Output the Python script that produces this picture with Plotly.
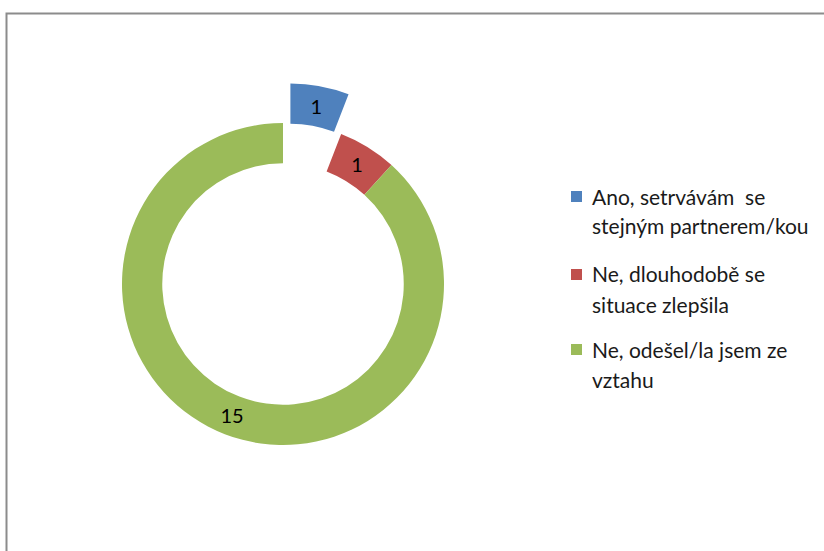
import plotly.graph_objects as go

# data
legend_lines = [
    ["Ano, setrvávám  se", "stejným partnerem/kou"],
    ["Ne, dlouhodobě se", "situace zlepšila"],
    ["Ne, odešel/la jsem ze", "vztahu"],
]
labels = [" ".join(l) for l in legend_lines]
values = [1, 1, 15]
colors = ["#4F81BD", "#C0504D", "#9BBB59"]
pulls = [0.25, 0, 0]

W, H = 824, 551
FONT = "Lato, 'Open Sans', sans-serif"

fig = go.Figure()
fig.add_trace(go.Pie(
    labels=labels,
    values=values,
    sort=False,
    direction="clockwise",
    rotation=0,
    hole=0.75,
    pull=pulls,
    marker=dict(colors=colors, line=dict(width=0)),
    textinfo="value",
    textposition="inside",
    insidetextorientation="horizontal",
    textfont=dict(family=FONT, size=20, color="black"),
    domain=dict(x=[0.0992, 0.5877], y=[0.1193, 0.8498]),
    hoverinfo="label+value",
    showlegend=False,
))

# legend drawn by hand so the line spacing matches the original
shapes = [dict(
    type="rect", xref="paper", yref="paper",
    x0=6.5 / W, x1=1.05, y0=-0.05, y1=1 - 13.5 / H,
    line=dict(color="#8c8c8c", width=2),
    fillcolor="rgba(0,0,0,0)", layer="below",
)]
annotations = []
entry_top = [196, 274, 349]   # centre of first text line (px from top)
line_gap = 30
for i, lines in enumerate(legend_lines):
    y0 = entry_top[i]
    shapes.append(dict(
        type="rect", xref="paper", yref="paper",
        x0=571 / W, x1=582 / W, y0=1 - (y0 + 6) / H, y1=1 - (y0 - 5) / H,
        line=dict(width=0), fillcolor=colors[i],
    ))
    for j, txt in enumerate(lines):
        annotations.append(dict(
            xref="paper", yref="paper", x=590 / W, y=1 - (y0 + j * line_gap) / H,
            xanchor="left", yanchor="middle", showarrow=False, text=txt,
            font=dict(family=FONT, size=21, color="#1a1a1a"),
        ))

fig.update_layout(
    width=W, height=H,
    margin=dict(l=0, r=0, t=0, b=0),
    paper_bgcolor="white",
    plot_bgcolor="white",
    font=dict(family=FONT, color="black"),
    shapes=shapes,
    annotations=annotations,
)

fig.write_html(
    "out.html",
    config={"displayModeBar": False},
    post_script="document.body.style.margin = '0';",
)
